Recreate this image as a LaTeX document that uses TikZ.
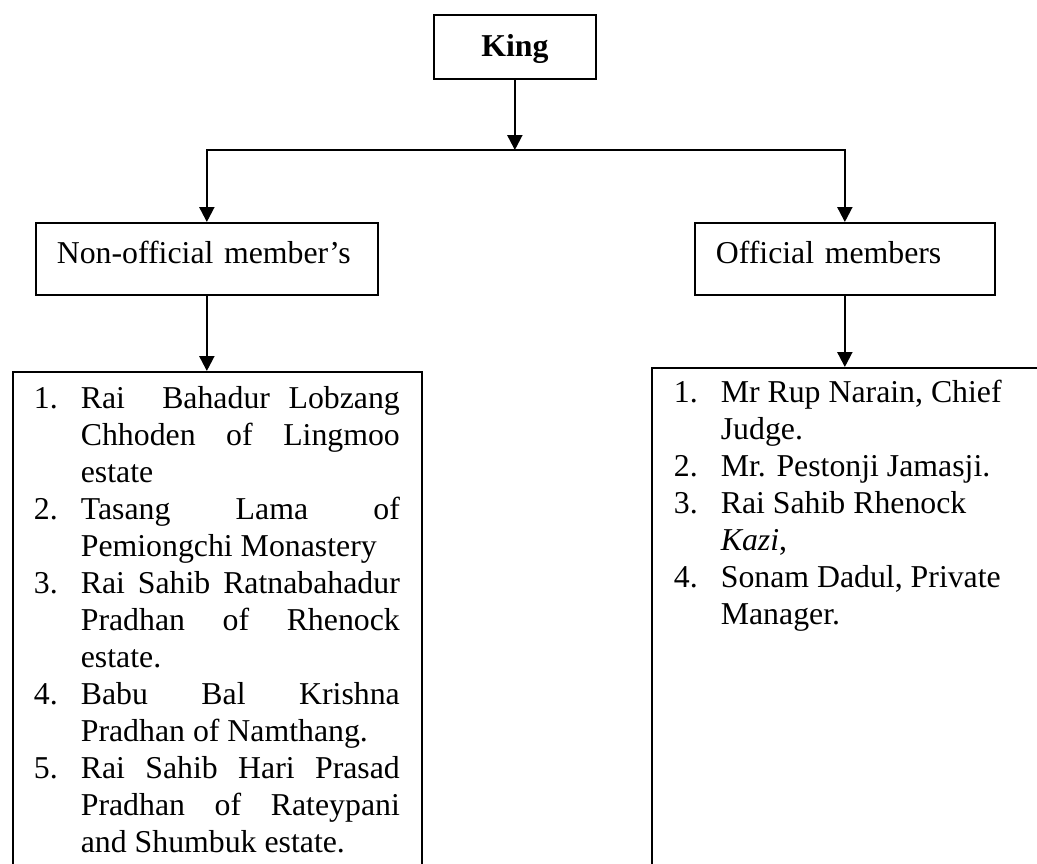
\documentclass[tikz,border=0pt]{standalone}
\usepackage{fontspec}
\setmainfont{Liberation Serif}
\usetikzlibrary{arrows.meta}
\begin{document}
\begin{tikzpicture}[x=1pt,y=-1pt,
  box/.style={draw, line width=1.7pt, inner sep=0pt, anchor=north west,
              font=\fontsize{31.8pt}{37pt}\selectfont},
  conn/.style={line width=2.2pt, line join=miter},
  tip/.style={-{Triangle[width=15pt,length=15pt]}},
  tips/.style={{Triangle[width=15pt,length=15pt]}-{Triangle[width=15pt,length=15pt]}}]
\useasboundingbox (0,0) rectangle (1037,863);
\clip (0,0) rectangle (1037,863);

\node[box, text width=162pt, align=center, text height=42pt, text depth=22pt]
  (king) at (433,14) {\textbf{King}};

\node[box, text width=300pt, align=left, inner xsep=21pt, inner ysep=0pt,
  text height=41pt, text depth=31pt] (non) at (35,222) {Non-official member’s};

\node[box, text width=258pt, align=left, inner xsep=21pt, inner ysep=0pt,
  text height=41pt, text depth=31pt] (off) at (694,222) {Official members};

\node[box, text height=37pt, text depth=600pt] (nonlist) at (12,371) {%
\begin{tabular}[t]{@{\hspace{21pt}}l@{}l@{\hspace{22pt}}}
\makebox[47pt][l]{1.} & \makebox[319pt][s]{Rai\ \ Bahadur Lobzang}\\
 & \makebox[319pt][s]{Chhoden of Lingmoo}\\
 & estate\\
\makebox[47pt][l]{2.} & \makebox[319pt][s]{Tasang Lama of}\\
 & Pemiongchi Monastery\\
\makebox[47pt][l]{3.} & \makebox[319pt][s]{Rai Sahib Ratnabahadur}\\
 & \makebox[319pt][s]{Pradhan of Rhenock}\\
 & estate.\\
\makebox[47pt][l]{4.} & \makebox[319pt][s]{Babu Bal Krishna}\\
 & Pradhan of Namthang.\\
\makebox[47pt][l]{5.} & \makebox[319pt][s]{Rai Sahib Hari Prasad}\\
 & \makebox[319pt][s]{Pradhan of Rateypani}\\
 & and Shumbuk estate.\\
\end{tabular}};

\node[box, text height=35pt, text depth=600pt] (offlist) at (651,367) {%
\begin{tabular}[t]{@{\hspace{22pt}}l@{}l@{\hspace{400pt}}}
\makebox[47pt][l]{1.} & Mr Rup Narain, Chief\\
 & Judge.\\
\makebox[47pt][l]{2.} & Mr. Pestonji Jamasji.\\
\makebox[47pt][l]{3.} & Rai Sahib Rhenock\\
 & \textit{Kazi},\\
\makebox[47pt][l]{4.} & Sonam Dadul, Private\\
 & Manager.\\
\end{tabular}};

\coordinate (bus) at (king.south |- 0,150);
\draw[conn, tip] (king.south) -- (bus);
\draw[conn, tips] (non.north) |- (bus) -| (off.north);
\draw[conn, tip] (non.south) -- (non.south |- nonlist.north);
\draw[conn, tip] (off.south) -- (off.south |- offlist.north);
\end{tikzpicture}
\end{document}
